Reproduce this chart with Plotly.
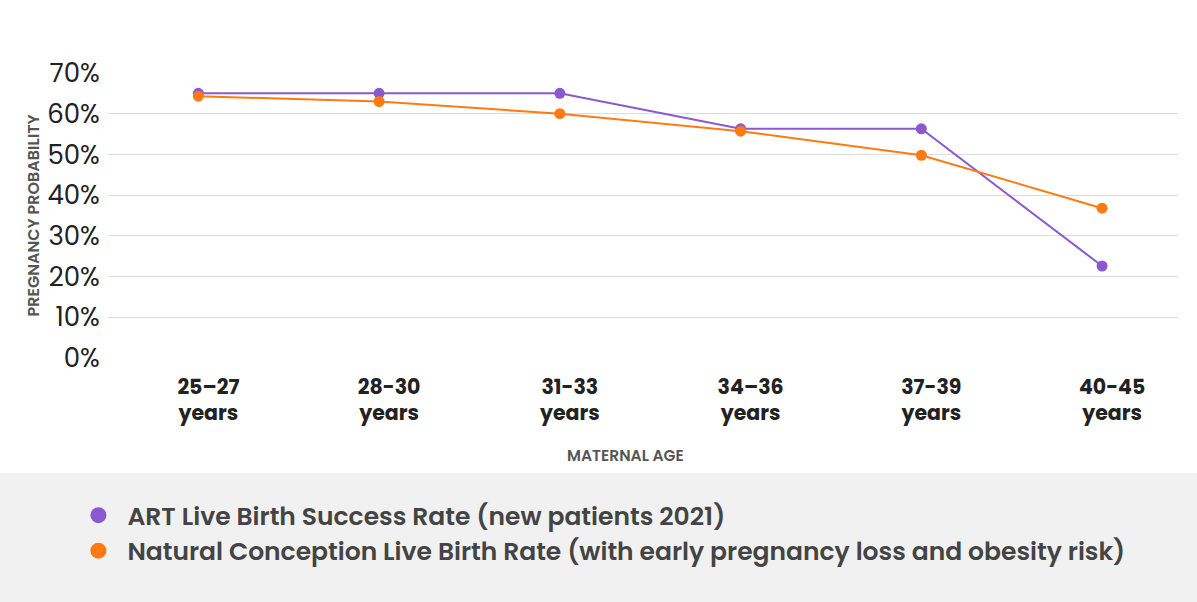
import plotly.graph_objects as go

age_groups = ["25–27<br>years", "28-30<br>years", "31-33<br>years",
              "34–36<br>years", "37-39<br>years", "40-45<br>years"]
art_rate = [65.0, 65.0, 65.0, 56.3, 56.3, 22.6]
natural_rate = [64.3, 63.0, 60.0, 55.7, 49.8, 36.8]

art_name = "ART Live Birth Success Rate (new patients 2021)"
natural_name = "Natural Conception Live Birth Rate (with early pregnancy loss and obesity risk)"

PURPLE = "#8a59d0"
ORANGE = "#ff7a12"
FONT = "Poppins, Inter, sans-serif"

W, H = 1197, 602
ML, MR, MT, MB = 108, 19, 73, 244

fig = go.Figure()
for name, vals, col in [(art_name, art_rate, PURPLE), (natural_name, natural_rate, ORANGE)]:
    fig.add_trace(go.Scatter(
        x=age_groups, y=vals, name=name, mode="lines+markers",
        line=dict(color=col, width=2),
        marker=dict(color=col, size=11),
        showlegend=False, hoverinfo="y+name"))
    # legend entry shown as a plain dot
    fig.add_trace(go.Scatter(
        x=[None], y=[None], name=name, mode="markers",
        marker=dict(color=col, size=16), showlegend=True))

# grey band behind the legend
pw = W - ML - MR
ph = H - MT - MB
fig.add_shape(type="rect", xref="paper", yref="paper", layer="below",
              x0=-ML / pw, x1=1 + MR / pw, y0=-MB / ph, y1=-(473 - (H - MB)) / ph,
              fillcolor="#f1f1f1", line_width=0)

# axis titles as plain labels
fig.add_annotation(text="PREGNANCY PROBABILITY", xref="paper", yref="paper",
                   x=-(ML - 33) / pw, y=0.5, xanchor="center", yanchor="middle",
                   textangle=-90, showarrow=False,
                   font=dict(size=16, color="#555", weight=600))
fig.add_annotation(text="MATERNAL AGE", xref="paper", yref="paper",
                   x=(625 - ML) / pw, y=-(455 - (H - MB)) / ph,
                   xanchor="center", yanchor="middle", showarrow=False,
                   font=dict(size=15.5, color="#555", weight=600))

fig.update_layout(
    width=W, height=H,
    margin=dict(l=ML, r=MR, t=MT, b=MB, autoexpand=False),
    paper_bgcolor="white", plot_bgcolor="white",
    font=dict(family=FONT, color="#222"),
    legend=dict(xref="container", yref="container", x=0.058, y=0.182,
                xanchor="left", yanchor="top",
                font=dict(size=25, color="#444", family=FONT, weight=600),
                bgcolor="rgba(0,0,0,0)", itemwidth=48, tracegroupgap=2),
    xaxis=dict(
        type="category", range=[-0.5, 5.42],
        showgrid=False, showline=False, zeroline=False,
        ticks="outside", ticklen=10, tickcolor="rgba(0,0,0,0)", tickangle=0,
        ticklabelshift=10,
        tickfont=dict(size=20.5, color="#222", weight=700)),
    yaxis=dict(
        range=[0, 70], dtick=10, ticksuffix="%",
        showgrid=True, gridcolor="#dddddd", gridwidth=1,
        zeroline=False, showline=False,
        ticks="outside", ticklen=2, tickcolor="rgba(0,0,0,0)",
        tickfont=dict(size=26, color="#222")),
)

fig.write_html("out.html", config={"displayModeBar": False},
               post_script="document.body.style.margin='0';")
